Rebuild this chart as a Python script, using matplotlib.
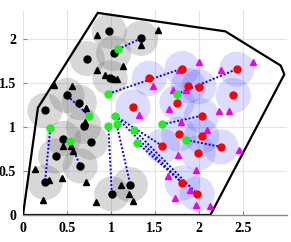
import matplotlib
matplotlib.use("Agg")
import matplotlib.pyplot as plt
from matplotlib.patches import Circle
import numpy as np

# Region boundary polygon
boundary_x = [0.0, 0.17, 0.85, 2.30, 2.93, 2.97, 2.13, 0.0]
boundary_y = [0.0, 1.22, 2.30, 2.09, 1.70, 1.60, 0.0, 0.0]

# Black circle nodes (with gray coverage discs)
black_x = [0.98, 1.34, 1.03, 0.73, 0.99, 0.50, 0.64, 0.25, 0.69, 0.46, 0.77, 0.37, 0.65, 0.25, 1.01, 1.22]
black_y = [2.09, 2.01, 1.84, 1.78, 1.56, 1.36, 1.28, 1.19, 1.01, 0.87, 0.83, 0.67, 0.56, 0.37, 0.24, 0.345]

# Black triangles
btri_x = [0.84, 1.34, 1.53, 0.84, 1.14, 0.93, 1.03, 1.07, 0.35, 0.56, 0.72, 0.70,
          0.45, 0.55, 0.57, 0.14, 0.30, 0.44, 0.72, 0.23, 0.83, 1.11, 1.21, 1.25]
btri_y = [2.05, 1.94, 2.11, 1.65, 1.70, 1.59, 1.55, 1.55, 1.48, 1.47, 1.22, 1.06,
          0.78, 0.78, 0.73, 0.52, 0.40, 0.42, 0.37, 0.17, 0.15, 0.34, 0.235, 0.16]

# Red circle nodes (with blue coverage discs)
red_x = [1.435, 1.81, 2.43, 1.88, 2.00, 1.25, 1.75, 2.39, 2.03, 1.77, 2.03, 2.25, 1.585, 1.99, 1.81, 1.98]
red_y = [1.555, 1.667, 1.66, 1.47, 1.46, 1.23, 1.28, 1.36, 1.13, 0.92, 0.90, 0.775, 0.785, 0.705, 0.365, 0.24]

# Magenta triangles
mtri_x = [2.00, 2.61, 2.25, 1.77, 1.48, 1.70, 1.85, 1.32, 1.66, 2.23, 2.34,
          1.80, 2.09, 2.45, 1.76, 1.97, 1.645, 1.90, 1.73, 1.97, 2.12]
mtri_y = [1.74, 1.74, 1.65, 1.65, 1.465, 1.42, 1.42, 1.14, 1.21, 1.18, 1.18,
          1.06, 0.965, 0.74, 0.68, 0.51, 0.445, 0.29, 0.19, 0.115, 0.10]

# Green relay nodes
green_x = [1.08, 0.97, 0.75, 0.31, 0.53, 0.97, 1.065, 1.045, 1.26, 1.30, 1.75, 1.58, 1.85]
green_y = [1.885, 1.38, 1.13, 0.985, 0.845, 1.015, 1.03, 1.13, 0.97, 0.82, 1.375, 1.03, 0.855]

# Links: (green index, target x, target y)
link_green = [0, 1, 2, 3, 4, 5, 6, 7, 7, 8, 9, 10, 11, 12]
link_tx = [1.34, 1.81, 0.50, 0.25, 0.65, 1.01, 1.22, 1.585, 1.81, 1.98, 1.81, 2.43, 2.03, 2.25]
link_ty = [2.01, 1.667, 1.36, 0.37, 0.56, 0.24, 0.345, 0.785, 0.365, 0.24, 0.365, 1.66, 1.13, 0.775]

disc_radius = 0.2

fig = plt.figure(figsize=(2.91, 2.42), dpi=100)
ax = fig.add_axes([0.079, 0.1116, 0.907, 0.846])

for x, y in zip(black_x, black_y):
    ax.add_patch(Circle((x, y), disc_radius, facecolor=(0.45, 0.45, 0.45), alpha=0.28,
                        edgecolor='none', zorder=1))
for x, y in zip(red_x, red_y):
    ax.add_patch(Circle((x, y), disc_radius, facecolor=(0.2, 0.2, 1.0), alpha=0.17,
                        edgecolor='none', zorder=1))

ax.plot(boundary_x, boundary_y, color='black', lw=1.6, zorder=2, solid_joinstyle='miter')

for gi, tx, ty in zip(link_green, link_tx, link_ty):
    ax.plot([green_x[gi], tx], [green_y[gi], ty], color='blue', lw=1.4,
            linestyle=(0, (1, 1)), zorder=3)

ax.plot(btri_x, btri_y, linestyle='none', marker='^', color='black', markersize=5, zorder=4)
ax.plot(mtri_x, mtri_y, linestyle='none', marker='^', color='#ee00ee', markersize=5, zorder=4)
ax.plot(black_x, black_y, linestyle='none', marker='o', color='black', markersize=5, zorder=5)
ax.plot(red_x, red_y, linestyle='none', marker='o', color='red', markersize=5, zorder=5)
ax.plot(green_x, green_y, linestyle='none', marker='o', color='#22ee22', markersize=5, zorder=6)

ax.set_xlim(0, 3)
ax.set_ylim(0, 2.33)
ax.set_xticks([0, 0.5, 1, 1.5, 2, 2.5])
ax.set_xticklabels(['0', '0.5', '1', '1.5', '2', '2.5'])
ax.set_yticks([0, 0.5, 1, 1.5, 2])
ax.set_yticklabels(['0', '0.5', '1', '1.5', '2'])
ax.grid(True, color='#e4e4e4', lw=0.8, zorder=0)
ax.set_axisbelow(True)
for s in ['top', 'right', 'left']:
    ax.spines[s].set_visible(False)
ax.spines['bottom'].set_color('#888888')
ax.spines['bottom'].set_linewidth(1.0)
ax.tick_params(direction='in', length=3, color='#888888', width=0.8, pad=5)
for lab in ax.get_xticklabels() + ax.get_yticklabels():
    lab.set_fontfamily('Liberation Serif')
    lab.set_fontweight('bold')
    lab.set_fontsize(10)

fig.savefig('out.png', dpi=100)
